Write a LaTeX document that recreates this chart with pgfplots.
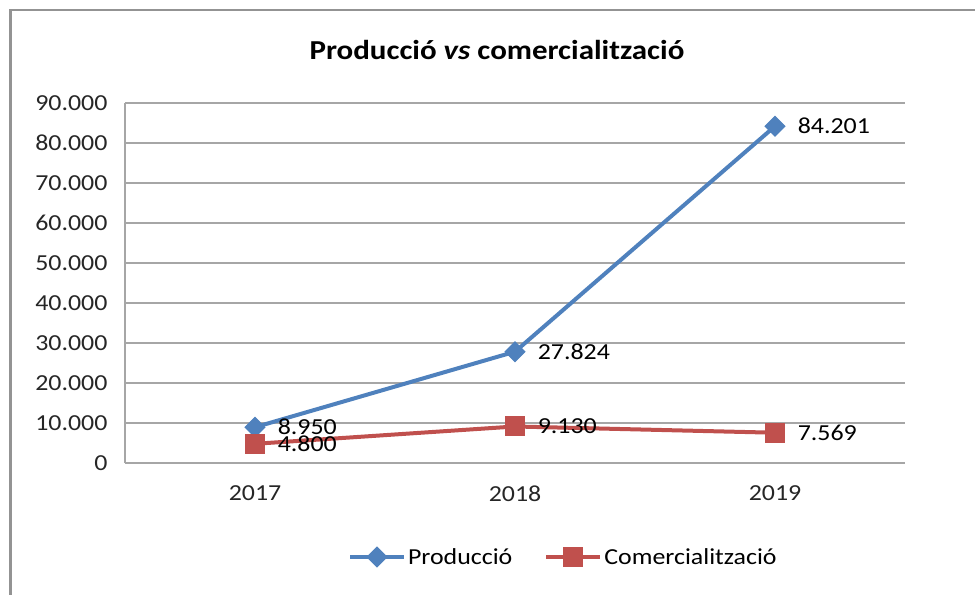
\documentclass[border=0pt]{standalone}
\usepackage{pgfplots}
\pgfplotsset{compat=1.18}
\usepackage{fontspec}
\setmainfont{Carlito}[FakeStretch=1.13]
\definecolor{blueS}{HTML}{4F81BD}
\definecolor{redS}{HTML}{C0504D}
\definecolor{gridc}{HTML}{A6A6A6}
\newcommand{\bigf}{\fontsize{23}{27}\selectfont}
\begin{document}
\begin{tikzpicture}
\path[use as bounding box] (0bp,0bp) rectangle (975bp,595bp);
\draw[color=gray!85, line width=2.5bp] (10.5bp,0bp) -- (10.5bp,585bp) -- (975bp,585bp);
\node[font=\fontsize{27.5}{31}\selectfont\bfseries] at (497bp,545bp) {Producció \textit{vs} comercialització};
\begin{axis}[
  at={(125bp,132bp)}, anchor=south west,
  scale only axis, width=780bp, height=360bp,
  xmin=-0.5, xmax=2.5, ymin=0, ymax=90000,
  scaled y ticks=false,
  axis x line=bottom, axis y line=left,
  axis line style={draw=gridc, line width=1.2bp, -},
  xtick={0,1,2}, xticklabels={2017,2018,2019},
  ytick={0,10000,20000,30000,40000,50000,60000,70000,80000,90000},
  yticklabels={0,10.000,20.000,30.000,40.000,50.000,60.000,70.000,80.000,90.000},
  major tick length=0pt,
  ymajorgrids, grid style={draw=gridc, line width=1.2bp},
  tick label style={font=\bigf, text=black!85},
  xticklabel style={yshift=-19bp},
  yticklabel style={xshift=-14bp},
  clip=false,
  legend style={at={(0.562,-0.261)}, anchor=center, draw=none, fill=none,
    font=\bigf, legend columns=2,
    /tikz/every even column/.append style={column sep=30bp},
    legend cell align=left},
  legend image code/.code={\draw[mark repeat=2,mark phase=2] plot coordinates {(0bp,0bp) (27bp,0bp) (54bp,0bp)};},
  nodes near coords, point meta=explicit symbolic,
  every node near coord/.append style={font=\bigf, anchor=west, xshift=19bp, text=black},
]
\addplot[blueS, line width=4bp, mark=square*, mark size=7bp, mark options={rotate=45, solid, line width=1bp}]
  coordinates {(0,8950) [8.950] (1,27824) [27.824] (2,84201) [84.201]};
\addlegendentry{Producció}
\addplot[redS, line width=4bp, mark=square*, mark size=9.5bp, mark options={solid, line width=1bp}]
  coordinates {(0,4800) [4.800] (1,9130) [9.130] (2,7569) [7.569]};
\addlegendentry{Comercialització}
\end{axis}
\end{tikzpicture}
\end{document}
